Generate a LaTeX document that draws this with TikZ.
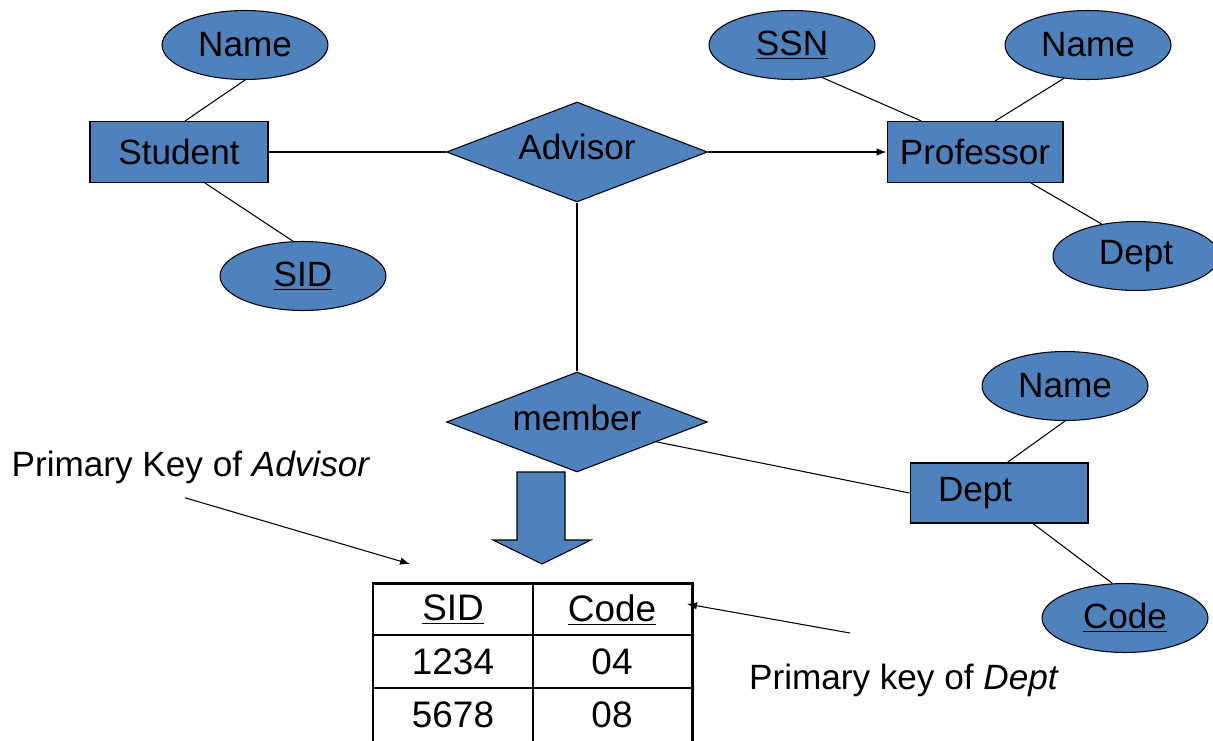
\documentclass[tikz,border=0pt]{standalone}
\usepackage{fontspec}
\setmainfont{Liberation Sans}
\usetikzlibrary{arrows.meta,shapes.geometric}
\definecolor{erblue}{HTML}{4F81BD}

\begin{document}
\begin{tikzpicture}[x=0.02cm,y=-0.02cm,line width=0.6pt,>={Latex[length=2mm,width=1.5mm]},
  every node/.style={font=\fontsize{20}{24}\selectfont},
  entity/.style={draw,fill=erblue,minimum width=3.56cm,minimum height=1.22cm,inner sep=0pt},
  attr/.style={draw,fill=erblue,ellipse,minimum width=3.32cm,minimum height=1.38cm,inner sep=0pt},
  rel/.style={draw,fill=erblue,diamond,aspect=2.6,minimum width=5.22cm,minimum height=2cm,inner sep=0pt},
  cell/.style={font=\fontsize{21}{25}\selectfont}]
\useasboundingbox (0,0) rectangle (1213,740);
% student and its attributes
\node[attr] (sname) at (245,45) {Name};
\node[entity] (student) at (179,152) {Student};
\node[attr] (sid) at (303,276) {\underline{SID}};
\draw (sname.south) -- (student.79);
\draw (student.-50) -- (sid.106);
% professor and its attributes
\node[entity,minimum width=3.52cm] (prof) at (975,152) {Professor};
\node[attr] (ssn) at (792,45) {\underline{SSN}};
\node[attr] (pname) at (1088,45) {Name};
\node[attr] (pdept) at (1136,256) {Dept};
\draw (ssn.-47) -- (prof.150);
\draw (pname.234) -- (prof.57);
\draw (prof.-29) -- (pdept.137);
% relationships
\node[rel] (advisor) at (577,152) {\raisebox{0.2cm}{Advisor}};
\node[rel] (member) at (577,422) {\raisebox{0.16cm}{member}};
\draw (student.east) -- (advisor.west);
\draw[->] (advisor.east) -- (prof.west);
\draw (advisor.south) -- (member.north);
% dept and its attributes
\node[entity,minimum height=1.2cm,text width=2.44cm,align=left] (dept) at (999,493) {Dept};
\node[attr] (dname) at (1065,386) {Name};
\node[attr] (dcode) at (1125,618) {\underline{Code}};
\draw (member.-14) -- (dept.west);
\draw (dname.south) -- (dept.75);
\draw (dept.-42) -- (dcode.110);
% big arrow
\filldraw[fill=erblue] (517,472) -- (565,472) -- (565,540) -- (591,540) -- (542,564)
  -- (493,540) -- (517,540) -- cycle;
% table
\draw (533,583) -- (533,742);
\draw (373,635) -- (692,635);
\draw (373,688) -- (692,688);
\draw[line width=1.7pt] (373,742) -- (373,583) -- (692,583) -- (692,742);
\node[cell] (hsid) at (453,610) {\underline{SID}};
\node[cell] (hcode) at (612,610) {\underline{Code}};
\node[cell] (sidA) at (453,662) {1234};
\node[cell] (codeA) at (612,662) {04};
\node[cell] (sidB) at (453,715) {5678};
\node[cell] (codeB) at (612,715) {08};
% key notes
\node (pkadv) at (191,467) {Primary Key of \textit{Advisor}};
\node (pkdept) at (904,680) {Primary key of \textit{Dept}};
\coordinate (advtip) at (410,564);
\coordinate (depttail) at (850,633);
\coordinate (depttip) at (687,604);
\draw[->] (pkadv.south) ++(-6,8) -- (advtip);
\draw[->] (depttail) -- (depttip);
\end{tikzpicture}
\end{document}
